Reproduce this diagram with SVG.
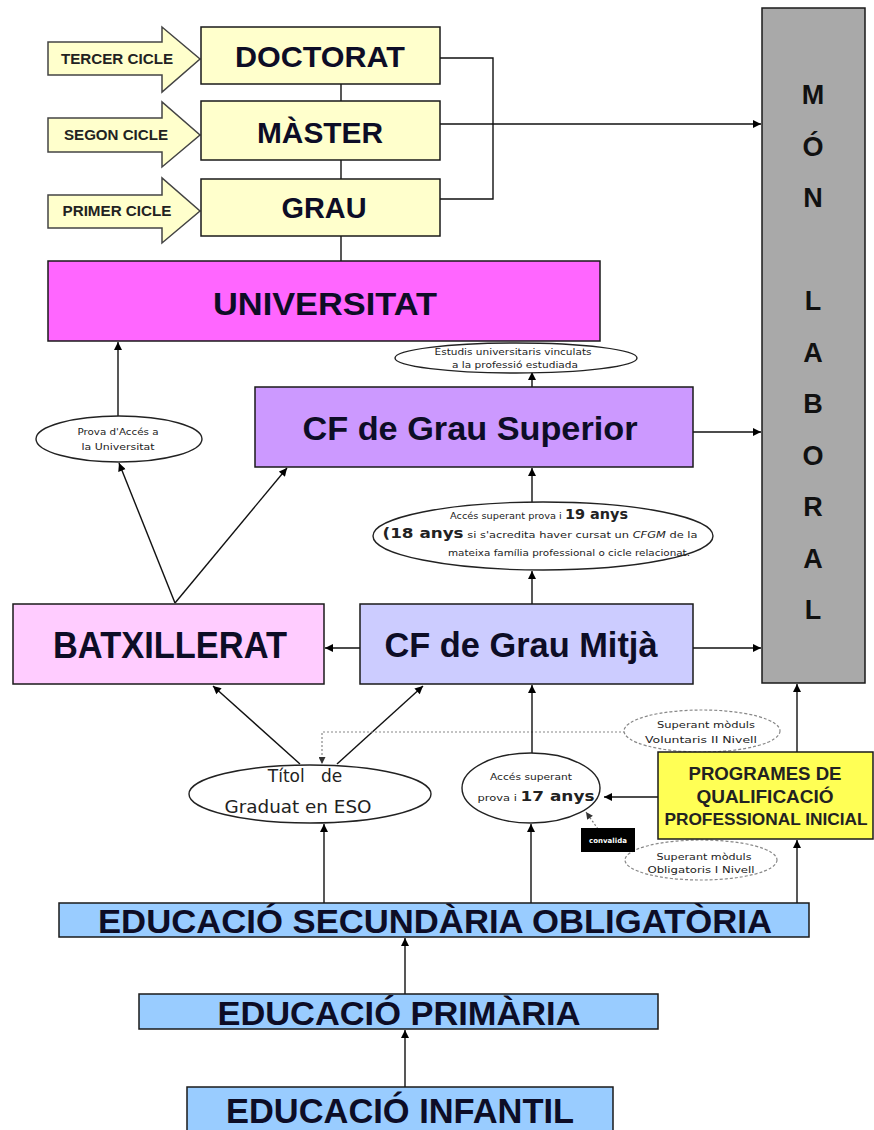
<svg xmlns="http://www.w3.org/2000/svg" width="874" height="1130" viewBox="0 0 874 1130">
<style>
.box{stroke:#1a1a1a;stroke-width:1.5}
.t{font-family:"Liberation Sans",Arial,sans-serif;font-weight:bold;fill:#0d0d26;text-anchor:middle}
.s{font-family:"DejaVu Sans",sans-serif;fill:#222;text-anchor:middle}
.ln{stroke:#111;stroke-width:1.4;fill:none}
.ov{fill:#fff;stroke:#222;stroke-width:1.4}
.ovd{fill:#fff;stroke:#888;stroke-width:1.2;stroke-dasharray:3 2}
.blk{fill:#ffffcc;stroke:#444;stroke-width:1.5}
</style>
<defs>
<marker id="ah" viewBox="0 0 10 10" refX="10" refY="5" markerWidth="9" markerHeight="8" orient="auto" markerUnits="userSpaceOnUse"><path d="M0,0 L10,5 L0,10 z" fill="#000"/></marker>
<marker id="ahg" viewBox="0 0 10 10" refX="10" refY="5" markerWidth="8" markerHeight="7" orient="auto" markerUnits="userSpaceOnUse"><path d="M0,0 L10,5 L0,10 z" fill="#333"/></marker>
</defs>
<rect width="874" height="1130" fill="#fff"/>

<g id="connectors">
<line class="ln" x1="341" y1="84" x2="341" y2="101"/>
<line class="ln" x1="341" y1="160" x2="341" y2="179"/>
<line class="ln" x1="341" y1="236" x2="341" y2="261"/>
<polyline class="ln" points="440,58 493,58 493,199 440,199"/>
<line class="ln" x1="440" y1="124" x2="761" y2="124" marker-end="url(#ah)"/>
<line class="ln" x1="118" y1="416" x2="118" y2="342" marker-end="url(#ah)"/>
<line class="ln" x1="175" y1="603" x2="119" y2="463" marker-end="url(#ah)"/>
<line class="ln" x1="175" y1="603" x2="287" y2="468" marker-end="url(#ah)"/>
<line class="ln" x1="532" y1="387" x2="532" y2="372" marker-end="url(#ah)"/>
<line class="ln" x1="693" y1="432" x2="761" y2="432" marker-end="url(#ah)"/>
<line class="ln" x1="532" y1="502" x2="532" y2="468" marker-end="url(#ah)"/>
<line class="ln" x1="532" y1="604" x2="532" y2="571" marker-end="url(#ah)"/>
<line class="ln" x1="360" y1="648" x2="325" y2="648" marker-end="url(#ah)"/>
<line class="ln" x1="693" y1="648" x2="761" y2="648" marker-end="url(#ah)"/>
<line class="ln" x1="300" y1="764" x2="213" y2="686" marker-end="url(#ah)"/>
<line class="ln" x1="337" y1="764" x2="423" y2="686" marker-end="url(#ah)"/>
<polyline fill="none" stroke="#888" stroke-width="1.2" stroke-dasharray="2 2" points="625,732 322,732 322,764" marker-end="url(#ahg)"/>
<line class="ln" x1="532" y1="753" x2="532" y2="685" marker-end="url(#ah)"/>
<line class="ln" x1="658" y1="797" x2="604" y2="797" marker-end="url(#ah)"/>
<line stroke="#777" stroke-width="1.2" stroke-dasharray="2 2" x1="598" y1="829" x2="586" y2="812" marker-end="url(#ahg)"/>
<line class="ln" x1="797" y1="752" x2="797" y2="684" marker-end="url(#ah)"/>
<line class="ln" x1="324" y1="903" x2="324" y2="824" marker-end="url(#ah)"/>
<line class="ln" x1="531" y1="903" x2="531" y2="824" marker-end="url(#ah)"/>
<line class="ln" x1="797" y1="903" x2="797" y2="840" marker-end="url(#ah)"/>
<line class="ln" x1="405" y1="994" x2="405" y2="938" marker-end="url(#ah)"/>
<line class="ln" x1="405" y1="1087" x2="405" y2="1030" marker-end="url(#ah)"/>
</g>

<g id="tercer-cicle">
<polygon class="blk" points="48,42 162,42 162,27 200,59 162,92 162,75 48,75"/>
<text class="t" x="117" y="64" font-size="14" textLength="112" lengthAdjust="spacingAndGlyphs" style="fill:#222">TERCER CICLE</text>
</g>
<g id="segon-cicle">
<polygon class="blk" points="48,118 162,118 162,102 200,135 162,167 162,152 48,152"/>
<text class="t" x="116" y="140" font-size="14" textLength="104" lengthAdjust="spacingAndGlyphs" style="fill:#222">SEGON CICLE</text>
</g>
<g id="primer-cicle">
<polygon class="blk" points="48,195 162,195 162,178 200,211 162,243 162,228 48,228"/>
<text class="t" x="117" y="216" font-size="14" textLength="109" lengthAdjust="spacingAndGlyphs" style="fill:#222">PRIMER CICLE</text>
</g>

<g id="doctorat">
<rect class="box" x="201" y="27" width="239" height="57" fill="#ffffcc"/>
<text class="t" x="320" y="67" font-size="30" textLength="170" lengthAdjust="spacingAndGlyphs">DOCTORAT</text>
</g>
<g id="master">
<rect class="box" x="201" y="101" width="239" height="59" fill="#ffffcc"/>
<text class="t" x="320" y="143" font-size="29" textLength="126" lengthAdjust="spacingAndGlyphs">MÀSTER</text>
</g>
<g id="grau">
<rect class="box" x="201" y="179" width="239" height="57" fill="#ffffcc"/>
<text class="t" x="324" y="218" font-size="29" textLength="85" lengthAdjust="spacingAndGlyphs">GRAU</text>
</g>

<g id="universitat">
<rect class="box" x="48" y="261" width="552" height="80" fill="#ff66ff"/>
<text class="t" x="325" y="315" font-size="32" textLength="224" lengthAdjust="spacingAndGlyphs">UNIVERSITAT</text>
</g>

<g id="mon-laboral">
<rect class="box" x="762" y="8" width="103" height="675" fill="#a9a9a9"/>
<g class="t" font-size="27" style="fill:#111">
<text x="813" y="104">M</text>
<text x="813" y="156">Ó</text>
<text x="813" y="207">N</text>
<text x="813" y="310">L</text>
<text x="813" y="362">A</text>
<text x="813" y="413">B</text>
<text x="813" y="465">O</text>
<text x="813" y="516">R</text>
<text x="813" y="568">A</text>
<text x="813" y="619">L</text>
</g>
</g>

<g id="prova-acces">
<ellipse class="ov" cx="119" cy="439" rx="83" ry="23"/>
<text class="s" x="118" y="435" font-size="9.5" textLength="81" lengthAdjust="spacingAndGlyphs">Prova d'Accés a</text>
<text class="s" x="118" y="450" font-size="9.5" textLength="73" lengthAdjust="spacingAndGlyphs">la Universitat</text>
</g>

<g id="estudis-vinculats">
<ellipse class="ov" cx="516" cy="358" rx="121" ry="15"/>
<text class="s" x="513" y="355" font-size="9.5" textLength="157" lengthAdjust="spacingAndGlyphs">Estudis universitaris vinculats</text>
<text class="s" x="515" y="368" font-size="9.5" textLength="126" lengthAdjust="spacingAndGlyphs">a la professió estudiada</text>
</g>

<g id="cf-grau-superior">
<rect class="box" x="255" y="387" width="438" height="80" fill="#cc99ff"/>
<text class="t" x="470" y="440" font-size="33" textLength="335" lengthAdjust="spacingAndGlyphs">CF de Grau Superior</text>
</g>

<g id="acces-19-anys">
<ellipse class="ov" cx="543" cy="536" rx="170" ry="34"/>
<text class="s" x="539" y="519" font-size="9.5" textLength="178" lengthAdjust="spacingAndGlyphs">Accés superant prova i <tspan font-size="14" font-weight="bold">19 anys</tspan></text>
<text class="s" x="540" y="538" font-size="9.5" textLength="315" lengthAdjust="spacingAndGlyphs"><tspan font-size="14" font-weight="bold">(18 anys</tspan> si s'acredita haver cursat un <tspan font-style="italic">CFGM</tspan>  de la</text>
<text class="s" x="569" y="556" font-size="9.5" textLength="242" lengthAdjust="spacingAndGlyphs">mateixa família professional o cicle relacionat.</text>
</g>

<g id="batxillerat">
<rect class="box" x="13" y="604" width="311" height="80" fill="#ffccff"/>
<text class="t" x="170" y="658" font-size="36" textLength="234" lengthAdjust="spacingAndGlyphs">BATXILLERAT</text>
</g>

<g id="cf-grau-mitja">
<rect class="box" x="360" y="604" width="333" height="80" fill="#ccccff"/>
<text class="t" x="521" y="657" font-size="35" textLength="273" lengthAdjust="spacingAndGlyphs">CF de Grau Mitjà</text>
</g>

<g id="titol-eso">
<ellipse class="ov" cx="310" cy="794" rx="121" ry="29"/>
<text class="s" x="305" y="782" font-size="17" style="white-space:pre">Títol   de</text>
<text class="s" x="298" y="813" font-size="17" textLength="147" lengthAdjust="spacingAndGlyphs">Graduat en ESO</text>
</g>

<g id="acces-17-anys">
<ellipse class="ov" cx="531" cy="788" rx="69" ry="35"/>
<text class="s" x="531" y="780" font-size="9.5" textLength="82" lengthAdjust="spacingAndGlyphs">Accés superant</text>
<text class="s" x="536" y="801" font-size="9.5" textLength="117" lengthAdjust="spacingAndGlyphs">prova i <tspan font-size="14" font-weight="bold">17 anys</tspan></text>
</g>

<g id="voluntaris">
<ellipse class="ovd" cx="702" cy="731" rx="78" ry="21"/>
<text class="s" x="706" y="728" font-size="9.5" textLength="98" lengthAdjust="spacingAndGlyphs">Superant mòduls</text>
<text class="s" x="701" y="743" font-size="9.5" textLength="112" lengthAdjust="spacingAndGlyphs">Voluntaris II Nivell</text>
</g>

<g id="obligatoris">
<ellipse class="ovd" cx="701" cy="860" rx="76" ry="20"/>
<text class="s" x="704" y="860" font-size="9.5" textLength="95" lengthAdjust="spacingAndGlyphs">Superant mòduls</text>
<text class="s" x="701" y="873" font-size="9.5" textLength="107" lengthAdjust="spacingAndGlyphs">Obligatoris I Nivell</text>
</g>

<g id="convalida">
<rect x="581" y="828" width="54" height="24" fill="#000"/>
<text class="s" x="608" y="843" font-size="7" font-weight="bold" style="fill:#fff">convalida</text>
</g>

<g id="pqpi">
<rect class="box" x="658" y="752" width="215" height="87" fill="#ffff55"/>
<text class="t" x="765" y="780" font-size="19" textLength="153" lengthAdjust="spacingAndGlyphs" style="fill:#222">PROGRAMES DE</text>
<text class="t" x="765" y="803" font-size="19" style="fill:#222">QUALIFICACIÓ</text>
<text class="t" x="766" y="825" font-size="17.3" style="fill:#222">PROFESSIONAL INICIAL</text>
</g>

<g id="eso">
<rect class="box" x="59" y="903" width="750" height="34" fill="#99ccff"/>
<text class="t" x="435" y="933" font-size="34" textLength="674" lengthAdjust="spacingAndGlyphs">EDUCACIÓ SECUNDÀRIA OBLIGATÒRIA</text>
</g>

<g id="primaria">
<rect class="box" x="139" y="994" width="519" height="35" fill="#99ccff"/>
<text class="t" x="399" y="1025" font-size="34" textLength="363" lengthAdjust="spacingAndGlyphs">EDUCACIÓ PRIMÀRIA</text>
</g>

<g id="infantil">
<rect class="box" x="187" y="1087" width="426" height="50" fill="#99ccff"/>
<text class="t" x="400" y="1123" font-size="35" textLength="348" lengthAdjust="spacingAndGlyphs">EDUCACIÓ INFANTIL</text>
</g>
</svg>
